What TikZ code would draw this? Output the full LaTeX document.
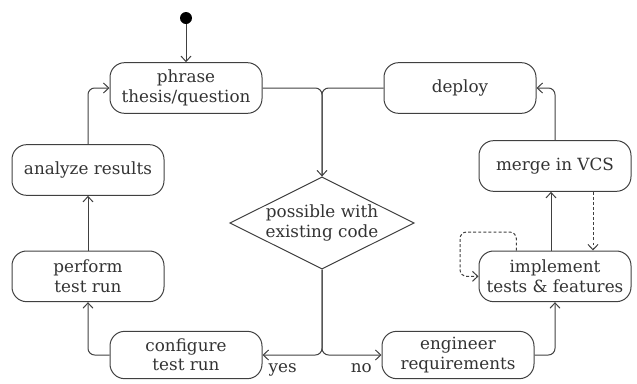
\documentclass[tikz,border=0pt]{standalone}
\usepackage{fontspec}
\setmainfont{DejaVu Serif}
\usetikzlibrary{shapes.geometric, arrows.meta, positioning, calc}
\definecolor{umlgray}{HTML}{404040}
\definecolor{umltext}{HTML}{333333}
\tikzset{
  act/.style={
    rectangle, rounded corners=11pt, draw=umlgray, line width=0.75pt,
    minimum width=114pt, minimum height=38pt, inner sep=1pt,
    align=center, text=umltext
  },
  decision/.style={
    diamond, shape aspect=2, draw=umlgray, line width=0.75pt, inner sep=0pt,
    minimum width=136.5pt, minimum height=67.5pt,
    align=center, text=umltext
  },
  guard/.style={text=umltext, inner sep=1pt},
  link/.style={line width=0.75pt, draw=umlgray},
  arrow/.style={-{Straight Barb[length=4pt,width=7.5pt]}, link},
  dasharrow/.style={arrow, dash pattern=on 2.2pt off 1.6pt}
}

\begin{document}
\begin{tikzpicture}[x=0.75pt, y=-0.75pt,
    font=\fontsize{12.6pt}{14.5pt}\selectfont]
    \useasboundingbox (0,0) rectangle (637,383);

    % Inicio
    \node[circle, fill=black, minimum size=9pt, inner sep=0pt] (start) at (186,18) {};

    % Fila superior
    \node[act] (phrase) at (186,88) {phrase\\thesis/question};
    \node[act, right=90.75pt of phrase] (deploy) {deploy};

    % Columna izquierda
    \node[act] (analyze) at (88,170) {analyze results};
    \node[act, below=41pt of analyze] (perform) {perform\\test run};

    % Columna derecha
    \node[act] (merge) at (555,166) {merge in VCS};
    \node[act, below=44pt of merge] (implement) {implement\\tests \& features};

    % Decision
    \node[decision] (dia) at (322,223) {possible with\\existing code};

    % Fila inferior
    \node[act, minimum height=35.5pt] (config) at (186,355) {configure\\test run};
    \node[act, minimum height=35.5pt] (engineer) at (458,355) {engineer\\requirements};

    % Flechas
    \draw[arrow] (start) -- (phrase.north);
    \draw[link, rounded corners=5pt] (phrase.east) -| (dia.north);
    \draw[arrow, rounded corners=5pt] (deploy.west) -| (dia.north);
    \draw[arrow, rounded corners=5pt] (dia.south) |- node[guard, pos=0.83, below=5pt] {yes} (config.east);
    \draw[arrow, rounded corners=5pt] (dia.south) |- node[guard, pos=0.83, below=5pt] {no} (engineer.west);
    \draw[arrow, rounded corners=5pt] (config.west) -| (perform.south);
    \draw[arrow] (perform) -- (analyze);
    \draw[arrow, rounded corners=5pt] (analyze.north) |- (phrase.west);
    \draw[arrow, rounded corners=5pt] (engineer.east) -| (implement.south);
    \draw[arrow] ([xshift=-3pt]implement.north) -- ([xshift=-3pt]merge.south);
    \draw[dasharrow] ([xshift=28.5pt]merge.south) -- ([xshift=28.5pt]implement.north);
    \draw[arrow, rounded corners=5pt] (merge.north) |- (deploy.east);

    % Bucle
    \coordinate (loopc) at (460,232);
    \draw[dasharrow, rounded corners=5pt] ([xshift=-29pt]implement.north) |- (loopc) |- (implement.west);
  \end{tikzpicture}
\end{document}
